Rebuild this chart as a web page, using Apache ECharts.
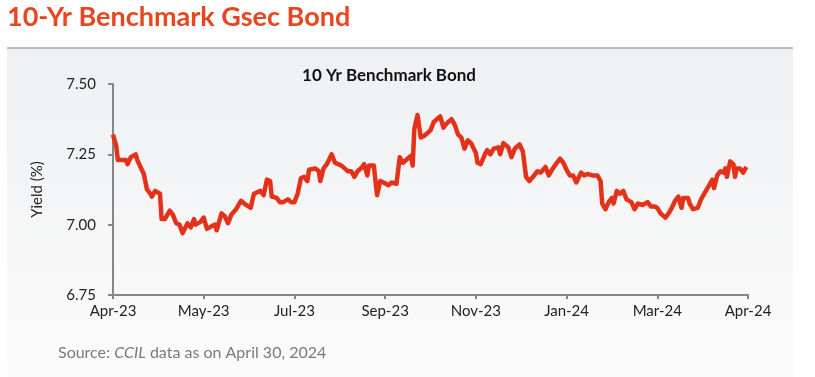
<!DOCTYPE html>
<html>
<head>
<meta charset="utf-8">
<script src="https://cdn.jsdelivr.net/npm/echarts@6/dist/echarts.min.js"></script>
<style>
  html, body { margin: 0; padding: 0; background: #fff; }
  #chart { width: 815px; height: 377px; }
</style>
</head>
<body>
<div id="chart"></div>
<script>
// x axis: days counted from 3 Apr 2023, one label every 56 days
var tickLabels = ['Apr-23', 'May-23', 'Jul-23', 'Sep-23', 'Nov-23', 'Jan-24', 'Mar-24', 'Apr-24'];

var days = [0, 2, 3, 5, 8, 9, 11, 14, 15, 16, 19, 21, 23, 24, 26, 29, 30, 32, 35, 37,
  39, 41, 43, 46, 48, 50, 51, 54, 56, 58, 61, 63, 64, 67, 69, 71, 73, 76, 79, 81,
  85, 87, 91, 93, 95, 97, 98, 101, 103, 105, 108, 110, 112, 114, 116, 118, 120, 121, 125, 127,
  128, 130, 132, 135, 137, 139, 141, 143, 145, 147, 149, 151, 154, 155, 157, 158, 161, 163, 165, 167,
  170, 172, 175, 177, 179, 182, 184, 185, 186, 188, 190, 192, 194, 196, 198, 200, 202, 204, 206, 207,
  209, 211, 213, 215, 217, 219, 221, 224, 225, 227, 230, 231, 233, 235, 238, 239, 241, 244, 246, 248,
  251, 253, 255, 257, 260, 262, 264, 267, 269, 271, 274, 276, 278, 280, 282, 284, 286, 289, 291, 293,
  296, 299, 301, 302, 304, 306, 308, 309, 311, 313, 315, 317, 320, 322, 324, 327, 328, 330, 332, 334,
  336, 338, 341, 343, 345, 347, 349, 351, 352, 355, 356, 358, 361, 363, 365, 368, 370, 371, 373, 375,
  377, 378, 379, 381, 383, 384, 385, 387, 389, 391];

var yields = [7.32, 7.28, 7.23, 7.23, 7.23, 7.215, 7.24, 7.25, 7.23, 7.225, 7.18, 7.125, 7.11, 7.10, 7.12, 7.11, 7.02, 7.02, 7.05, 7.035,
  7.005, 7.00, 6.97, 7.005, 6.99, 7.02, 7.00, 7.01, 7.025, 6.985, 6.995, 7.00, 6.98, 7.04, 7.03, 7.005, 7.035, 7.055, 7.085, 7.075,
  7.06, 7.11, 7.12, 7.105, 7.16, 7.155, 7.10, 7.095, 7.08, 7.08, 7.09, 7.08, 7.08, 7.11, 7.165, 7.17, 7.155, 7.195, 7.20, 7.19,
  7.155, 7.20, 7.215, 7.25, 7.22, 7.215, 7.21, 7.20, 7.19, 7.19, 7.17, 7.19, 7.205, 7.215, 7.175, 7.21, 7.21, 7.105, 7.155, 7.15,
  7.14, 7.15, 7.145, 7.24, 7.22, 7.235, 7.245, 7.21, 7.34, 7.39, 7.31, 7.315, 7.325, 7.335, 7.365, 7.375, 7.385, 7.345, 7.36, 7.355,
  7.375, 7.355, 7.32, 7.31, 7.27, 7.30, 7.29, 7.255, 7.22, 7.215, 7.255, 7.265, 7.25, 7.27, 7.275, 7.25, 7.29, 7.275, 7.24, 7.27,
  7.285, 7.26, 7.17, 7.155, 7.175, 7.19, 7.185, 7.205, 7.175, 7.195, 7.22, 7.235, 7.22, 7.195, 7.175, 7.175, 7.15, 7.185, 7.175, 7.18,
  7.175, 7.175, 7.155, 7.075, 7.055, 7.08, 7.095, 7.075, 7.12, 7.11, 7.12, 7.09, 7.08, 7.055, 7.075, 7.07, 7.065, 7.08, 7.065, 7.065,
  7.06, 7.04, 7.025, 7.04, 7.06, 7.085, 7.10, 7.06, 7.095, 7.095, 7.075, 7.055, 7.06, 7.09, 7.11, 7.14, 7.16, 7.13, 7.175, 7.19,
  7.185, 7.20, 7.17, 7.225, 7.215, 7.17, 7.20, 7.20, 7.185, 7.205];

var yTicks = [6.75, 7.00, 7.25, 7.50];

var seriesData = [];
for (var i = 0; i < days.length; i++) {
  seriesData.push([days[i], yields[i]]);
}

var chart = echarts.init(document.getElementById('chart'), null, { renderer: 'canvas' });

var font = 'Lato, "Open Sans", sans-serif';

var option = {
  animation: false,
  backgroundColor: '#ffffff',
  graphic: [
    // grey panel behind the chart
    {
      type: 'rect',
      shape: { x: 7, y: 48, width: 786, height: 329 },
      style: {
        fill: new echarts.graphic.LinearGradient(0, 0, 0, 1, [
          { offset: 0, color: '#eff0f2' },
          { offset: 1, color: '#fbfbfb' }
        ])
      },
      z: -10
    },
    {
      type: 'line',
      shape: { x1: 7, y1: 48, x2: 793, y2: 48 },
      style: { stroke: '#a6a6a6', lineWidth: 1.5 },
      z: -9
    },
    {
      type: 'text',
      left: 7,
      top: 4,
      style: {
        text: '10-Yr Benchmark Gsec Bond',
        font: 'bold 27px ' + font,
        fill: '#e8461e'
      }
    },
    {
      type: 'text',
      left: 58,
      top: 345,
      style: {
        text: '{n|Source: }{i|CCIL}{n| data as on April 30, 2024}',
        rich: {
          n: { font: '16px ' + font, fill: '#7a7a7a' },
          i: { font: 'italic 16px ' + font, fill: '#7a7a7a' }
        }
      }
    }
  ],
  title: {
    text: '10 Yr Benchmark Bond',
    left: 384,
    textAlign: 'center',
    top: 62,
    textStyle: { fontFamily: font, fontWeight: 'bold', fontSize: 17, color: '#111' }
  },
  grid: {
    left: 113,
    right: 67,
    top: 84,
    bottom: 82
  },
  xAxis: {
    type: 'value',
    min: 0,
    max: 392,
    interval: 56,
    axisLine: { lineStyle: { color: '#868686', width: 2 } },
    axisTick: { show: true, length: 4, lineStyle: { color: '#868686', width: 2 } },
    splitLine: { show: false },
    axisLabel: {
      fontFamily: font,
      fontSize: 15,
      color: '#222',
      margin: 9,
      formatter: function (v) { return tickLabels[Math.round(v / 56)]; }
    }
  },
  yAxis: {
    type: 'value',
    min: yTicks[0],
    max: yTicks[yTicks.length - 1],
    interval: 0.25,
    name: 'Yield (%)',
    nameLocation: 'middle',
    nameGap: 68,
    nameTextStyle: { fontFamily: font, fontSize: 15, color: '#222' },
    axisLine: { show: true, lineStyle: { color: '#868686', width: 2 } },
    axisTick: { show: true, length: 5, lineStyle: { color: '#868686', width: 2 } },
    splitLine: { show: false },
    axisLabel: {
      fontFamily: font,
      fontSize: 15,
      color: '#222',
      margin: 17,
      formatter: function (v) { return v.toFixed(2); }
    }
  },
  series: [{
    type: 'line',
    name: '10 Yr Benchmark Bond',
    data: seriesData,
    showSymbol: false,
    lineStyle: { color: '#e4321a', width: 4.5, join: 'round' },
    itemStyle: { color: '#e4321a' }
  }]
};

chart.setOption(option);
</script>
</body>
</html>
